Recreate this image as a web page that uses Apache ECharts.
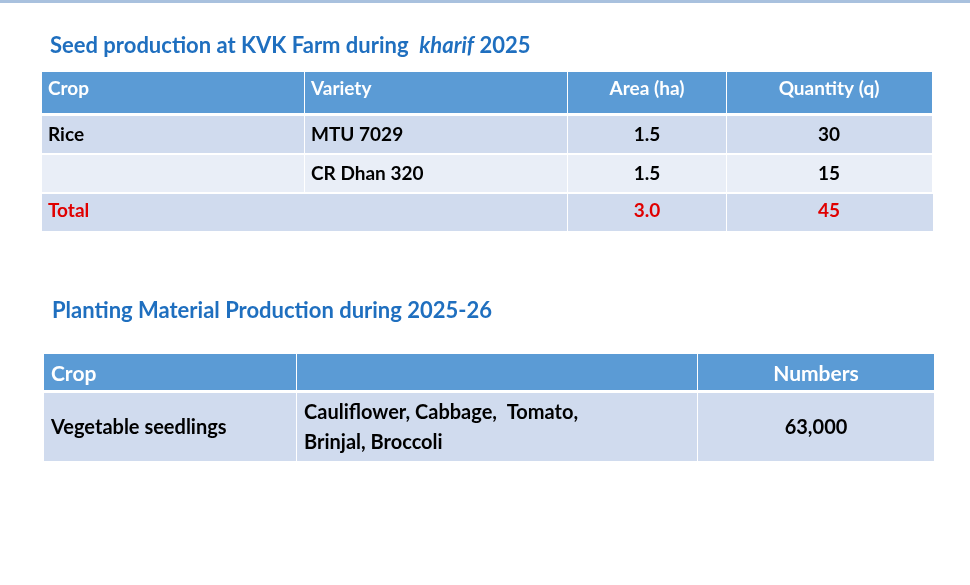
<!DOCTYPE html>
<html lang="en">
<head>
<meta charset="UTF-8">
<title>Seed production</title>
<style>html,body{margin:0;padding:0;background:#fff}</style>
</head>
<body>
<div id="main" style="width:970px;height:585px;"></div>
<script src="https://cdn.jsdelivr.net/npm/echarts@6/dist/echarts.min.js"></script>
<script>
var chart = echarts.init(document.getElementById('main'));

// table 1 data
var seedHeader = ['Crop', 'Variety', 'Area (ha)', 'Quantity (q)'];
var seedCrops = ['Rice', ''];
var seedVarieties = ['MTU 7029', 'CR Dhan 320'];
var seedArea = ['1.5', '1.5'];
var seedQty = ['30', '15'];
var seedTotal = ['Total', '3.0', '45'];

// table 2 data
var plantHeader = ['Crop', '', 'Numbers'];
var plantCrops = ['Vegetable seedlings'];
var plantItems = ['Cauliflower, Cabbage,  Tomato,\nBrinjal, Broccoli'];
var plantNumbers = ['63,000'];

var FONT = 'Lato, "Open Sans", sans-serif';
var g = [];
function rect(x, y, w, h, c) {
    g.push({type: 'rect', shape: {x: x, y: y, width: w, height: h}, style: {fill: c}, silent: true});
}
function txt(x, y, s, opt) {
    opt = opt || {};
    g.push({type: 'text', x: x, y: y, silent: true, style: {
        text: s, fill: opt.color || '#000', font: 'bold ' + (opt.size || 19) + 'px ' + FONT,
        align: opt.align || 'left', verticalAlign: 'middle', lineHeight: opt.lh || 24
    }});
}

// top bar
rect(0, 0, 970, 3, '#a9c1de');

// title 1
g.push({type: 'text', x: 50, y: 46, style: {
    text: '{a|Seed production at KVK Farm during  }{b|kharif}{a| 2025}',
    verticalAlign: 'middle',
    rich: {
        a: {fill: '#1f6fbf', font: 'bold 22px ' + FONT},
        b: {fill: '#1f6fbf', font: 'italic bold 22px ' + FONT}
    }
}});

// table 1
var c1 = [42, 305, 568, 727, 933];
var blue = '#5b9bd5', light = '#d0dbee', lighter = '#e9eef7';
for (var i = 0; i < 4; i++) {
    rect(c1[i], 72, c1[i + 1] - c1[i] - 1, 41, blue);
}
txt(48, 89, seedHeader[0], {color: '#fff'});
txt(311, 89, seedHeader[1], {color: '#fff'});
txt(647, 89, seedHeader[2], {color: '#fff', align: 'center'});
txt(829, 89, seedHeader[3], {color: '#fff', align: 'center'});
var rowsY = [116, 155];
for (var r = 0; r < seedCrops.length; r++) {
    var y = rowsY[r], fill = r % 2 ? lighter : light;
    for (var i = 0; i < 4; i++) rect(c1[i], y, c1[i + 1] - c1[i] - 1, 37, fill);
    txt(48, y + 19, seedCrops[r]);
    txt(311, y + 19, seedVarieties[r]);
    txt(647, y + 19, seedArea[r], {align: 'center'});
    txt(829, y + 19, seedQty[r], {align: 'center'});
}
rect(42, 194, 525, 37, light);
rect(568, 194, 158, 37, light);
rect(727, 194, 206, 37, light);
txt(48, 211, seedTotal[0], {color: '#e00000'});
txt(647, 211, seedTotal[1], {color: '#e00000', align: 'center'});
txt(829, 211, seedTotal[2], {color: '#e00000', align: 'center'});

// title 2
txt(52, 311, 'Planting Material Production during 2025-26', {color: '#1f6fbf', size: 22});

// table 2
var c2 = [44, 297, 698, 935];
for (var i = 0; i < 3; i++) {
    rect(c2[i], 354, c2[i + 1] - c2[i] - 1, 36, blue);
    rect(c2[i], 393, c2[i + 1] - c2[i] - 1, 68, light);
}
txt(51, 374, plantHeader[0], {color: '#fff', size: 21});
txt(816, 374, plantHeader[2], {color: '#fff', size: 21, align: 'center'});
txt(51, 428, plantCrops[0], {size: 20});
txt(304, 428, plantItems[0], {size: 20, lh: 30});
txt(816, 428, plantNumbers[0], {size: 20, align: 'center'});

chart.setOption({graphic: {elements: g}});
</script>
</body>
</html>
